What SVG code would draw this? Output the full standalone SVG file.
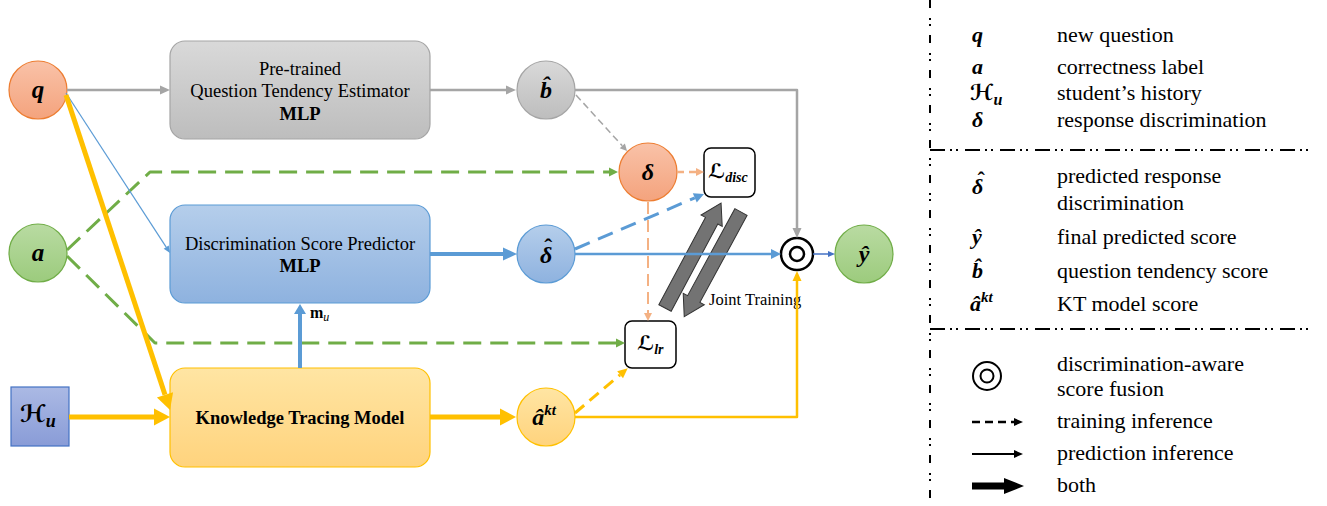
<svg xmlns="http://www.w3.org/2000/svg" width="1327" height="506" viewBox="0 0 1327 506">
<defs>
<linearGradient id="gOr" x1="0" y1="0" x2="0" y2="1"><stop offset="0" stop-color="#F9C2A8"/><stop offset="1" stop-color="#F4A37D"/></linearGradient>
<linearGradient id="gGr" x1="0" y1="0" x2="0" y2="1"><stop offset="0" stop-color="#B9DBA2"/><stop offset="1" stop-color="#9CCB7D"/></linearGradient>
<linearGradient id="gGy" x1="0" y1="0" x2="0" y2="1"><stop offset="0" stop-color="#D9D9D9"/><stop offset="1" stop-color="#BDBDBD"/></linearGradient>
<linearGradient id="gBl" x1="0" y1="0" x2="0" y2="1"><stop offset="0" stop-color="#B5CEEB"/><stop offset="1" stop-color="#8EB2DF"/></linearGradient>
<linearGradient id="gYe" x1="0" y1="0" x2="0" y2="1"><stop offset="0" stop-color="#FFE5A3"/><stop offset="1" stop-color="#FFD37D"/></linearGradient>
<linearGradient id="gHu" x1="0" y1="0" x2="0" y2="1"><stop offset="0" stop-color="#ABB9E4"/><stop offset="1" stop-color="#899CD7"/></linearGradient>
<marker id="aGray" markerUnits="userSpaceOnUse" markerWidth="10" markerHeight="9" refX="0" refY="4.5" orient="auto" overflow="visible"><path d="M0,0 L10,4.5 L0,9 z" fill="#A5A5A5"/></marker>
<marker id="aGraySm" markerUnits="userSpaceOnUse" markerWidth="7" markerHeight="7" refX="0" refY="3.5" orient="auto" overflow="visible"><path d="M0,0 L7,3.5 L0,7 z" fill="#A5A5A5"/></marker>
<marker id="aGreen" markerUnits="userSpaceOnUse" markerWidth="9" markerHeight="9" refX="0" refY="4.5" orient="auto" overflow="visible"><path d="M0,0 L9,4.5 L0,9 z" fill="#70AD47"/></marker>
<marker id="aBlue" markerUnits="userSpaceOnUse" markerWidth="10" markerHeight="10" refX="0" refY="5" orient="auto" overflow="visible"><path d="M0,0 L10,5 L0,10 z" fill="#5B9BD5"/></marker>
<marker id="aBlueBig" markerUnits="userSpaceOnUse" markerWidth="14" markerHeight="13" refX="0" refY="6.5" orient="auto" overflow="visible"><path d="M0,0 L14,6.5 L0,13 z" fill="#5B9BD5"/></marker>
<marker id="aBlueUp" markerUnits="userSpaceOnUse" markerWidth="10" markerHeight="12" refX="0" refY="6" orient="auto" overflow="visible"><path d="M0,0 L10,6 L0,12 z" fill="#5B9BD5"/></marker>
<marker id="aBlueSm" markerUnits="userSpaceOnUse" markerWidth="7" markerHeight="6" refX="0" refY="3" orient="auto" overflow="visible"><path d="M0,0 L7,3 L0,6 z" fill="#5B9BD5"/></marker>
<marker id="aBlueY" markerUnits="userSpaceOnUse" markerWidth="7" markerHeight="6" refX="0" refY="3" orient="auto" overflow="visible"><path d="M0,0 L7,3 L0,6 z" fill="#4472C4"/></marker>
<marker id="aYel" markerUnits="userSpaceOnUse" markerWidth="10" markerHeight="9" refX="0" refY="4.5" orient="auto" overflow="visible"><path d="M0,0 L10,4.5 L0,9 z" fill="#FFC000"/></marker>
<marker id="aYelBig" markerUnits="userSpaceOnUse" markerWidth="16" markerHeight="17" refX="0" refY="8.5" orient="auto" overflow="visible"><path d="M0,0 L16,8.5 L0,17 z" fill="#FFC000"/></marker>
<marker id="aOr" markerUnits="userSpaceOnUse" markerWidth="8" markerHeight="8" refX="0" refY="4" orient="auto" overflow="visible"><path d="M0,0 L8,4 L0,8 z" fill="#F4B183"/></marker>
<marker id="aBlk" markerUnits="userSpaceOnUse" markerWidth="9" markerHeight="8" refX="0" refY="4" orient="auto" overflow="visible"><path d="M0,0 L9,4 L0,8 z" fill="#000"/></marker>
</defs>
<style>
.t{font-family:"Liberation Serif","Times New Roman",serif;fill:#000}
.box{font-size:18.5px}
.b{font-weight:bold}
.m{font-family:"Liberation Serif","DejaVu Serif","DejaVu Sans",serif;font-weight:bold;font-style:italic;fill:#000}
.hat{font-style:normal}
.lg{font-size:22px}
.c{fill:none;stroke-linejoin:round}
.gy{stroke:#A5A5A5;stroke-width:2.5}
.gr{stroke:#70AD47;stroke-width:3;stroke-dasharray:18 9}
.bl{stroke:#5B9BD5}
.ye{stroke:#FFC000}
.or{stroke:#F4B183}
.sep{stroke:#000;stroke-width:2;fill:none}
</style>

<!-- nodes -->
<g id="node-q"><circle cx="38" cy="90" r="29" fill="url(#gOr)" stroke="#ED7D31" stroke-width="1.2"/><text class="m" x="38" y="98" font-size="25" text-anchor="middle">q</text></g>
<g id="node-a"><circle cx="38" cy="253" r="29" fill="url(#gGr)" stroke="#70AD47" stroke-width="1.2"/><text class="m" x="38" y="261" font-size="25" text-anchor="middle">a</text></g>
<g id="node-Hu"><rect x="11" y="387" width="58" height="59" fill="url(#gHu)" stroke="#4472C4" stroke-width="1.2"/><text class="m" x="20" y="422" font-size="24">ℋ<tspan font-size="18" dy="5">u</tspan></text></g>
<g id="node-qte"><rect x="170" y="41" width="260" height="98" rx="15" fill="url(#gGy)" stroke="#A5A5A5" stroke-width="1.2"/>
<text class="t box" x="300" y="75" text-anchor="middle">Pre-trained</text>
<text class="t box" x="300" y="97" text-anchor="middle">Question Tendency Estimator</text>
<text class="t box b" x="300" y="120" text-anchor="middle">MLP</text></g>
<g id="node-dsp"><rect x="170" y="205" width="260" height="98" rx="15" fill="url(#gBl)" stroke="#5B9BD5" stroke-width="1.2"/>
<text class="t box" x="300" y="250" text-anchor="middle">Discrimination Score Predictor</text>
<text class="t box b" x="300" y="272" text-anchor="middle">MLP</text></g>
<g id="node-kt"><rect x="170" y="368" width="260" height="99" rx="15" fill="url(#gYe)" stroke="#FFC000" stroke-width="1.2"/>
<text class="t box b" x="300" y="424" text-anchor="middle">Knowledge Tracing Model</text></g>
<g id="node-bhat"><circle cx="546" cy="90" r="29" fill="url(#gGy)" stroke="#A5A5A5" stroke-width="1.2"/><text class="m" x="546" y="98" font-size="24" text-anchor="middle">b̂</text></g>
<g id="node-delta"><circle cx="648" cy="172" r="29" fill="url(#gOr)" stroke="#ED7D31" stroke-width="1.2"/><text class="m" x="648" y="180" font-size="24" text-anchor="middle">δ</text></g>
<g id="node-deltahat"><circle cx="546" cy="254" r="29" fill="url(#gBl)" stroke="#5B9BD5" stroke-width="1.2"/><text class="m" x="540" y="263" font-size="24">δ<tspan class="hat" dx="-8" dy="-8">ˆ</tspan></text></g>
<g id="node-akt"><circle cx="546" cy="417" r="29" fill="url(#gYe)" stroke="#FFC000" stroke-width="1.2"/><text class="m" x="544" y="425" font-size="24" text-anchor="middle">â<tspan font-size="15" dy="-10">kt</tspan></text></g>
<g id="node-ldisc"><rect x="704" y="148" width="51" height="49" rx="7" fill="#fff" stroke="#000" stroke-width="1.5"/><text class="m" x="708" y="178" font-size="20">ℒ<tspan font-size="14" dy="4">disc</tspan></text></g>
<g id="node-llr"><rect x="625" y="321" width="51" height="47" rx="7" fill="#fff" stroke="#000" stroke-width="1.5"/><text class="m" x="637" y="350" font-size="20">ℒ<tspan font-size="14" dy="4">lr</tspan></text></g>
<g id="node-fusion"><circle cx="797" cy="254" r="16" fill="#fff" stroke="#000" stroke-width="2.5"/><circle cx="797" cy="254" r="7" fill="none" stroke="#000" stroke-width="2.5"/></g>
<g id="node-yhat"><circle cx="864" cy="254" r="29" fill="url(#gGr)" stroke="#70AD47" stroke-width="1.2"/><text class="m" x="864" y="262" font-size="24" text-anchor="middle">ŷ</text></g>
<g id="node-joint">
<polygon points="0,-7 99,-7 99,-12 119,0 99,12 99,7 0,7" transform="translate(665,308) rotate(-61.9)" fill="#737373" stroke="#333" stroke-width="1"/>
<polygon points="0,-7 99,-7 99,-12 119,0 99,12 99,7 0,7" transform="translate(741,212) rotate(118.5)" fill="#737373" stroke="#333" stroke-width="1"/>
<text class="t" x="709" y="305" font-size="16.5">Joint Training</text>
</g>

<!-- connectors -->
<g id="connectors">
<path class="c gy" d="M67,90 H160" marker-end="url(#aGray)"/>
<path class="c gy" d="M430,90 H506" marker-end="url(#aGray)"/>
<path class="c gy" d="M575,90 H797 V228" marker-end="url(#aGray)"/>
<path class="c" stroke="#A5A5A5" stroke-width="1.5" stroke-dasharray="7 4" d="M576,95 L622.3,145.8" marker-end="url(#aGraySm)"/>
<path class="c gr" d="M67,250 L150,172 H609" marker-end="url(#aGreen)"/>
<path class="c gr" d="M67,256 L155,343 H616" marker-end="url(#aGreen)"/>
<path class="c bl" stroke-width="1.2" d="M66,93 L166.2,247.1" marker-end="url(#aBlueSm)"/>
<path class="c ye" stroke-width="5" d="M66,95 L165,394.8" marker-end="url(#aYelBig)"/>
<path class="c ye" stroke-width="5" d="M69,417 H154" marker-end="url(#aYelBig)"/>
<path class="c bl" stroke-width="4" d="M430,254 H503" marker-end="url(#aBlueBig)"/>
<path class="c bl" stroke-width="2.5" d="M575,254 H771" marker-end="url(#aBlue)"/>
<path class="c" stroke="#4472C4" stroke-width="1.5" d="M813,254 H828" marker-end="url(#aBlueY)"/>
<path class="c bl" stroke-width="4" d="M300,368 V314" marker-end="url(#aBlueUp)"/>
<path class="c ye" stroke-width="5" d="M430,417 H500" marker-end="url(#aYelBig)"/>
<path class="c ye" stroke-width="2.5" d="M575,417 H797 V281" marker-end="url(#aYel)"/>
<path class="c ye" stroke-width="3" stroke-dasharray="12 7" d="M575,413 L620.1,374.8" marker-end="url(#aYel)"/>
<path class="c bl" stroke-width="3" stroke-dasharray="16 9" d="M575,249 L694.8,197.9" marker-end="url(#aBlue)"/>
<path class="c or" stroke-width="2.5" stroke-dasharray="7 5" d="M677,172 H696" marker-end="url(#aOr)"/>
<path class="c or" stroke-width="2" stroke-dasharray="12 6" d="M648,202 V313" marker-end="url(#aOr)"/>
</g>
<text class="t" x="310" y="318" font-size="16"><tspan font-weight="bold">m</tspan><tspan font-style="italic" font-size="12" dy="3">u</tspan></text>

<!-- legend -->
<g id="legend">
<path class="sep" d="M930,0 V506" stroke-dasharray="8 10 2 4 2 9"/>
<path class="sep" d="M930,150 H1312" stroke-dasharray="15 5 2 4 2 7"/>
<path class="sep" d="M930,329 H1312" stroke-dasharray="15 5 2 4 2 7"/>
<text class="m" x="972" y="42" font-size="22">q</text>
<text class="t lg" x="1057" y="42">new question</text>
<text class="m" x="972" y="74" font-size="22">a</text>
<text class="t lg" x="1057" y="74">correctness label</text>
<text class="m" x="970" y="100" font-size="22">ℋ<tspan font-size="16" dy="5">u</tspan></text>
<text class="t lg" x="1057" y="100">student’s history</text>
<text class="m" x="972" y="127" font-size="22">δ</text>
<text class="t lg" x="1057" y="127">response discrimination</text>
<text class="m" x="972" y="194" font-size="22">δ<tspan class="hat" dx="-5.7" dy="-7">ˆ</tspan></text>
<text class="t lg" x="1057" y="183">predicted response</text>
<text class="t lg" x="1057" y="210">discrimination</text>
<text class="m" x="972" y="244" font-size="22">ŷ</text>
<text class="t lg" x="1057" y="244">final predicted score</text>
<text class="m" x="972" y="278" font-size="22">b̂</text>
<text class="t lg" x="1057" y="278">question tendency score</text>
<text class="m" x="970" y="311" font-size="22">â<tspan font-size="15" dy="-9">kt</tspan></text>
<text class="t lg" x="1057" y="311">KT model score</text>
<circle cx="987" cy="376" r="14" fill="none" stroke="#000" stroke-width="2"/>
<circle cx="987" cy="376" r="6.5" fill="none" stroke="#000" stroke-width="2"/>
<text class="t lg" x="1057" y="371">discrimination-aware</text>
<text class="t lg" x="1057" y="396">score fusion</text>
<path class="c" stroke="#000" stroke-width="2.5" stroke-dasharray="8 5" d="M972,422 H1014" marker-end="url(#aBlk)"/>
<text class="t lg" x="1057" y="428">training inference</text>
<path class="c" stroke="#000" stroke-width="2" d="M972,454 H1014" marker-end="url(#aBlk)"/>
<text class="t lg" x="1057" y="460">prediction inference</text>
<polygon points="972,482.5 1004,482.5 1004,478 1024,486 1004,494 1004,489.5 972,489.5" fill="#000"/>
<text class="t lg" x="1057" y="492">both</text>
</g>
</svg>
